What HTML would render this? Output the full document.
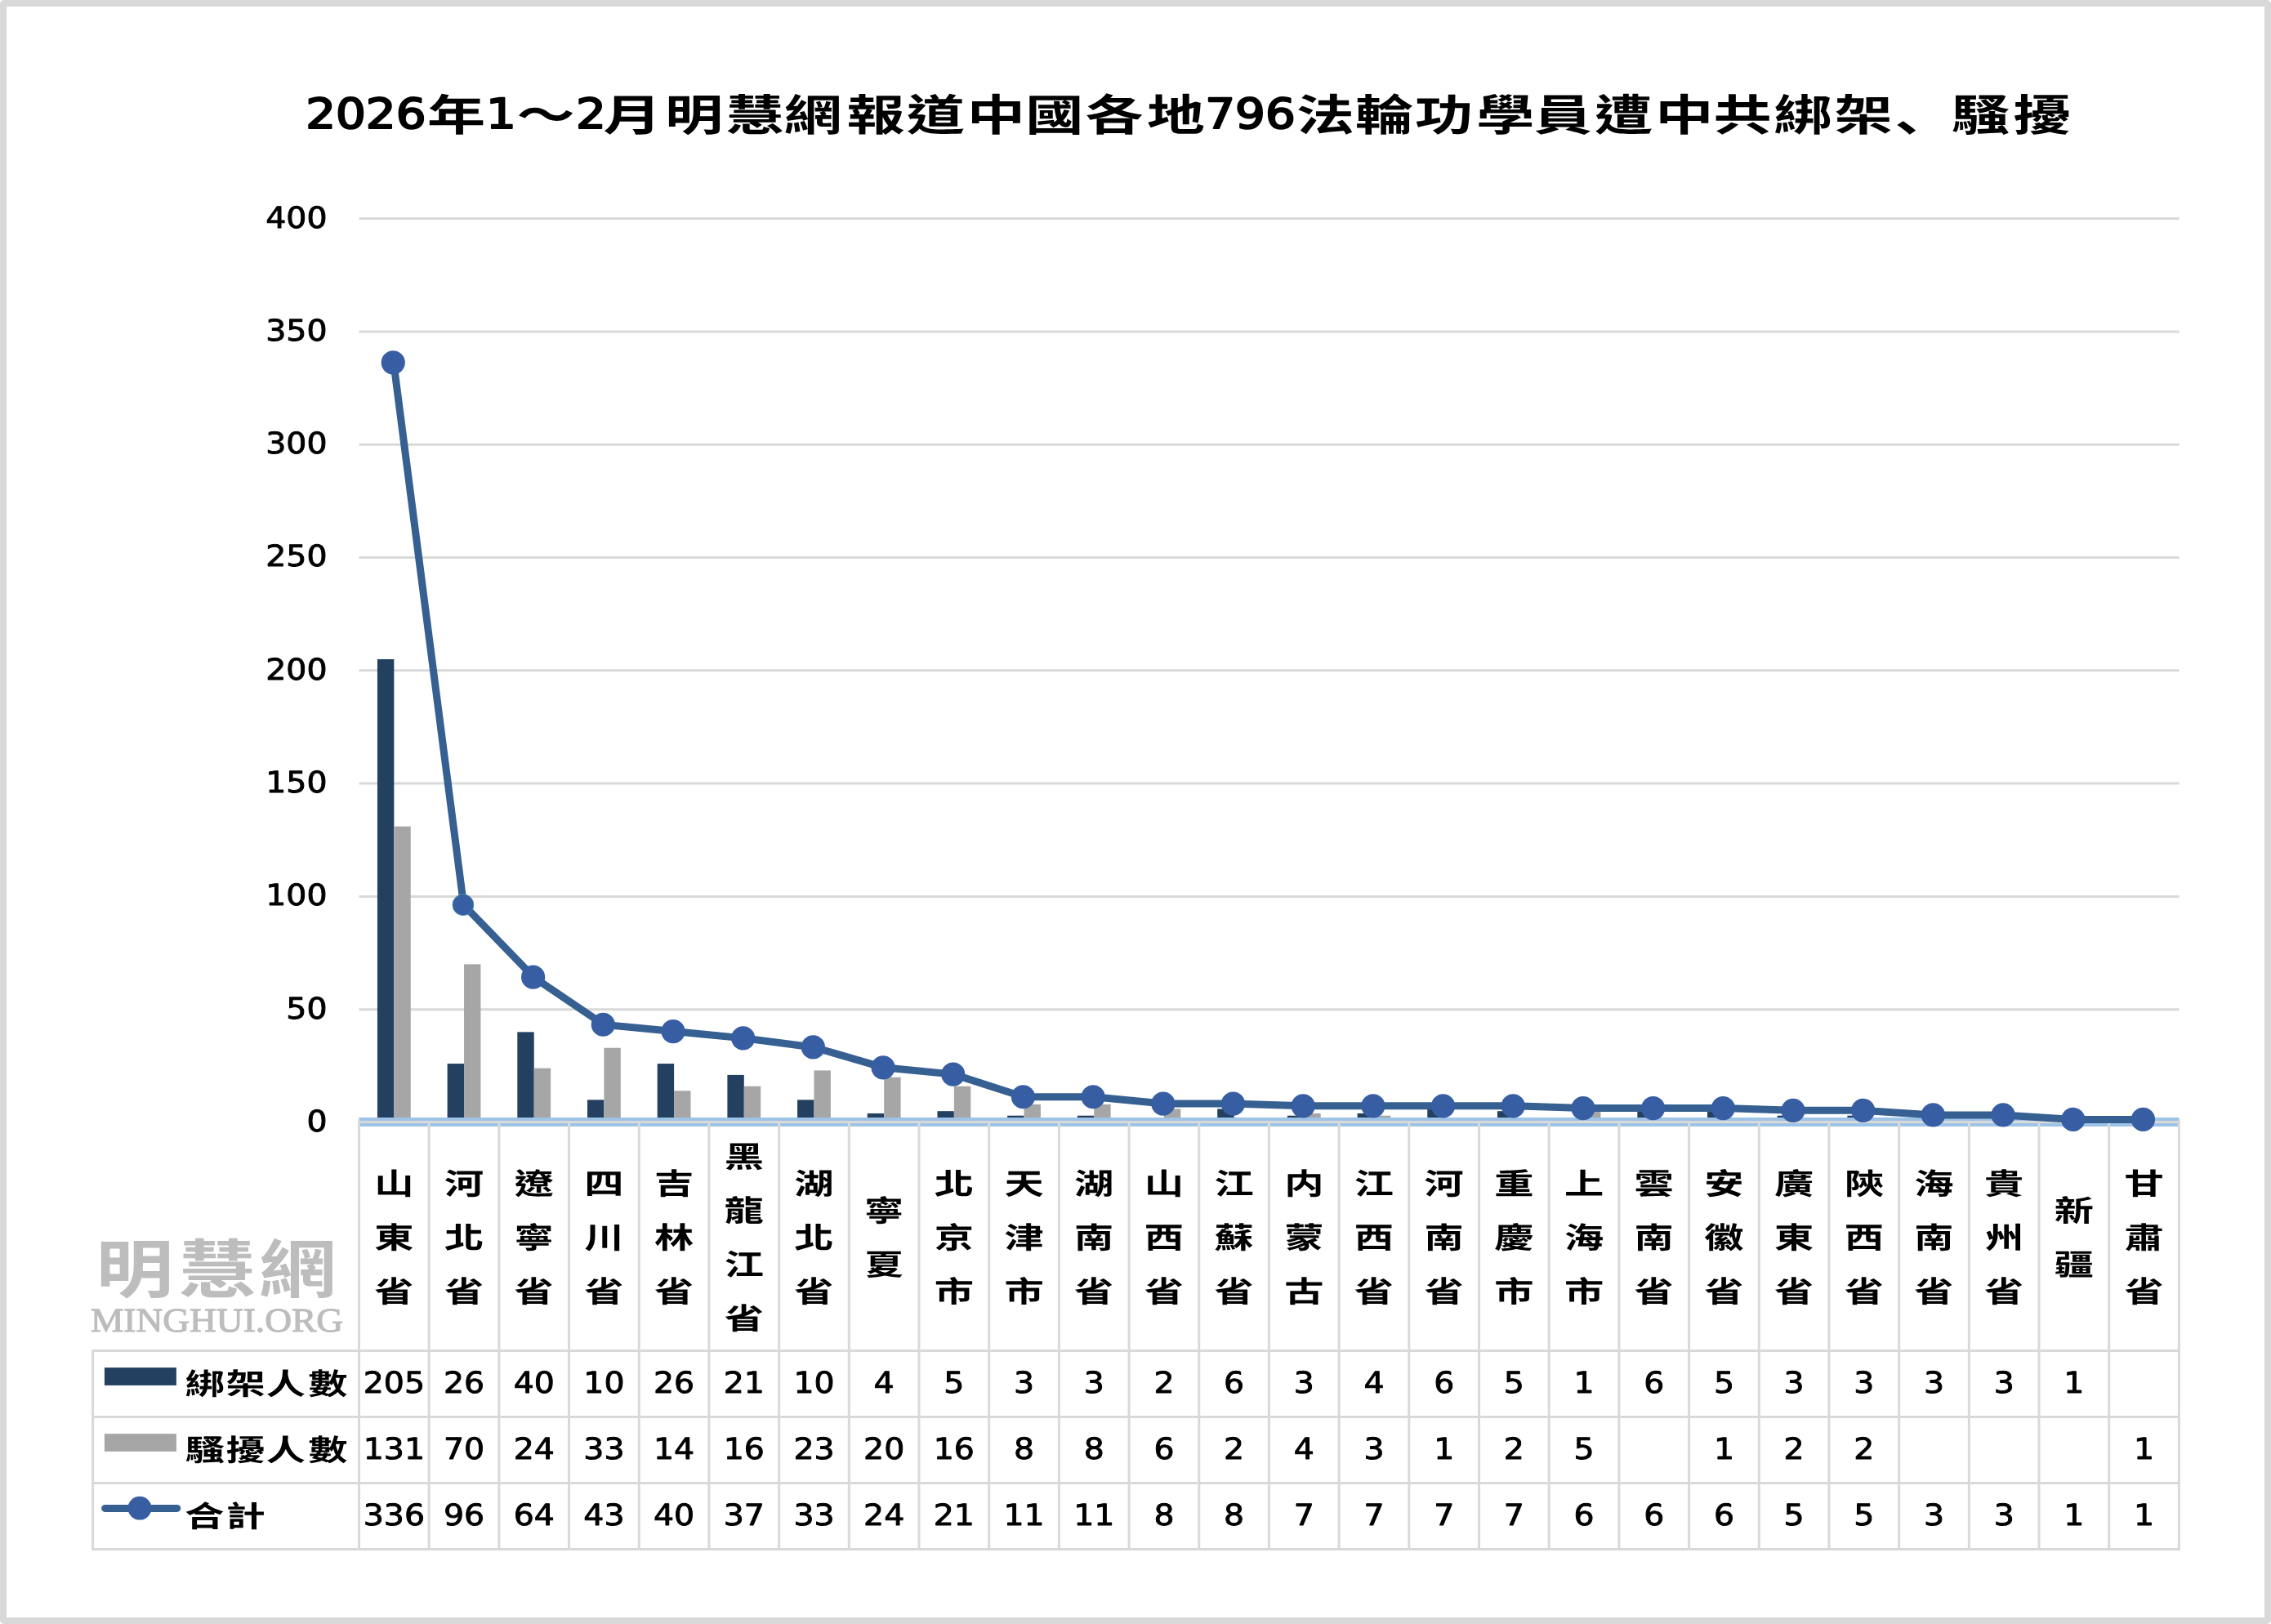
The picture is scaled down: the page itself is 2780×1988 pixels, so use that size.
<!DOCTYPE html>
<html lang="zh-Hant"><head><meta charset="utf-8"><title>2026年1～2月明慧網報道中國各地796法輪功學員遭中共綁架、騷擾</title>
<style>html,body{margin:0;padding:0;background:#fff}body{width:2780px;height:1988px;overflow:hidden}svg{display:block;will-change:transform}text{text-rendering:geometricPrecision}
.cj{font-family:"Liberation Sans","Noto Sans CJK TC","Noto Sans CJK SC","WenQuanYi Zen Hei",sans-serif;font-weight:bold;text-anchor:middle;fill:#000}
.nm{font-family:"DejaVu Sans","Liberation Sans",sans-serif;fill:#000;stroke:#000;stroke-width:0.9;stroke-linejoin:round}
.tn{font-family:"DejaVu Sans","Liberation Sans",sans-serif;fill:#000;stroke:#000;stroke-width:2.2;stroke-linejoin:round;text-anchor:middle}
.wm{fill:#bdbdbd}
</style></head><body>
<svg width="2780" height="1988" viewBox="0 0 2780 1988">
<rect x="0" y="0" width="2780" height="1988" fill="#fff"/>
<g id="chart" >
<rect x="4" y="4" width="2772" height="1980" rx="1" ry="1" fill="#fff" stroke="#d9d9d9" stroke-width="8"/>
<g stroke="#d9d9d9" stroke-width="3">
<line x1="439.5" y1="1235.7" x2="2667.6" y2="1235.7"/>
<line x1="439.5" y1="1097.4" x2="2667.6" y2="1097.4"/>
<line x1="439.5" y1="959.1" x2="2667.6" y2="959.1"/>
<line x1="439.5" y1="820.8" x2="2667.6" y2="820.8"/>
<line x1="439.5" y1="682.5" x2="2667.6" y2="682.5"/>
<line x1="439.5" y1="544.2" x2="2667.6" y2="544.2"/>
<line x1="439.5" y1="405.9" x2="2667.6" y2="405.9"/>
<line x1="439.5" y1="267.6" x2="2667.6" y2="267.6"/>
</g>
<g fill="#244061">
<rect x="461.94" y="806.97" width="20.4" height="563.03"/>
<rect x="547.63" y="1302.08" width="20.4" height="67.92"/>
<rect x="633.32" y="1263.36" width="20.4" height="106.64"/>
<rect x="719.01" y="1346.34" width="20.4" height="23.66"/>
<rect x="804.7" y="1302.08" width="20.4" height="67.92"/>
<rect x="890.39" y="1315.91" width="20.4" height="54.09"/>
<rect x="976.08" y="1346.34" width="20.4" height="23.66"/>
<rect x="1061.76" y="1362.94" width="20.4" height="7.06"/>
<rect x="1147.45" y="1360.17" width="20.4" height="9.83"/>
<rect x="1233.14" y="1365.7" width="20.4" height="4.3"/>
<rect x="1318.83" y="1365.7" width="20.4" height="4.3"/>
<rect x="1404.52" y="1368.47" width="20.4" height="1.53"/>
<rect x="1490.21" y="1357.4" width="20.4" height="12.6"/>
<rect x="1575.89" y="1365.7" width="20.4" height="4.3"/>
<rect x="1661.58" y="1362.94" width="20.4" height="7.06"/>
<rect x="1747.27" y="1357.4" width="20.4" height="12.6"/>
<rect x="1832.96" y="1360.17" width="20.4" height="9.83"/>
<rect x="1918.65" y="1371.23" width="20.4" height="-1.23"/>
<rect x="2004.34" y="1357.4" width="20.4" height="12.6"/>
<rect x="2090.03" y="1360.17" width="20.4" height="9.83"/>
<rect x="2175.71" y="1365.7" width="20.4" height="4.3"/>
<rect x="2261.4" y="1365.7" width="20.4" height="4.3"/>
<rect x="2347.09" y="1365.7" width="20.4" height="4.3"/>
<rect x="2432.78" y="1365.7" width="20.4" height="4.3"/>
<rect x="2518.47" y="1371.23" width="20.4" height="-1.23"/>
</g><g fill="#a6a6a6">
<rect x="482.34" y="1011.65" width="20.4" height="358.35"/>
<rect x="568.03" y="1180.38" width="20.4" height="189.62"/>
<rect x="653.72" y="1307.62" width="20.4" height="62.38"/>
<rect x="739.41" y="1282.72" width="20.4" height="87.28"/>
<rect x="825.1" y="1335.28" width="20.4" height="34.72"/>
<rect x="910.79" y="1329.74" width="20.4" height="40.26"/>
<rect x="996.48" y="1310.38" width="20.4" height="59.62"/>
<rect x="1082.16" y="1318.68" width="20.4" height="51.32"/>
<rect x="1167.85" y="1329.74" width="20.4" height="40.26"/>
<rect x="1253.54" y="1351.87" width="20.4" height="18.13"/>
<rect x="1339.23" y="1351.87" width="20.4" height="18.13"/>
<rect x="1424.92" y="1357.4" width="20.4" height="12.6"/>
<rect x="1510.61" y="1368.47" width="20.4" height="1.53"/>
<rect x="1596.29" y="1362.94" width="20.4" height="7.06"/>
<rect x="1681.98" y="1365.7" width="20.4" height="4.3"/>
<rect x="1767.67" y="1371.23" width="20.4" height="-1.23"/>
<rect x="1853.36" y="1368.47" width="20.4" height="1.53"/>
<rect x="1939.05" y="1360.17" width="20.4" height="9.83"/>
<rect x="2110.43" y="1371.23" width="20.4" height="-1.23"/>
<rect x="2196.11" y="1368.47" width="20.4" height="1.53"/>
<rect x="2281.8" y="1368.47" width="20.4" height="1.53"/>
<rect x="2624.56" y="1371.23" width="20.4" height="-1.23"/>
</g>
<rect x="439.3" y="1368" width="2228.3" height="11" fill="#9dc3e6"/>
<g stroke="#d9d9d9" stroke-width="3" fill="none">
<line x1="438" y1="1373.6" x2="2668.9" y2="1373.6"/>
<line x1="439.5" y1="1372.1" x2="439.5" y2="1898"/>
<line x1="525.19" y1="1372.1" x2="525.19" y2="1898"/>
<line x1="610.88" y1="1372.1" x2="610.88" y2="1898"/>
<line x1="696.57" y1="1372.1" x2="696.57" y2="1898"/>
<line x1="782.25" y1="1372.1" x2="782.25" y2="1898"/>
<line x1="867.94" y1="1372.1" x2="867.94" y2="1898"/>
<line x1="953.63" y1="1372.1" x2="953.63" y2="1898"/>
<line x1="1039.32" y1="1372.1" x2="1039.32" y2="1898"/>
<line x1="1125.01" y1="1372.1" x2="1125.01" y2="1898"/>
<line x1="1210.7" y1="1372.1" x2="1210.7" y2="1898"/>
<line x1="1296.38" y1="1372.1" x2="1296.38" y2="1898"/>
<line x1="1382.07" y1="1372.1" x2="1382.07" y2="1898"/>
<line x1="1467.76" y1="1372.1" x2="1467.76" y2="1898"/>
<line x1="1553.45" y1="1372.1" x2="1553.45" y2="1898"/>
<line x1="1639.14" y1="1372.1" x2="1639.14" y2="1898"/>
<line x1="1724.83" y1="1372.1" x2="1724.83" y2="1898"/>
<line x1="1810.52" y1="1372.1" x2="1810.52" y2="1898"/>
<line x1="1896.2" y1="1372.1" x2="1896.2" y2="1898"/>
<line x1="1981.89" y1="1372.1" x2="1981.89" y2="1898"/>
<line x1="2067.58" y1="1372.1" x2="2067.58" y2="1898"/>
<line x1="2153.27" y1="1372.1" x2="2153.27" y2="1898"/>
<line x1="2238.96" y1="1372.1" x2="2238.96" y2="1898"/>
<line x1="2324.65" y1="1372.1" x2="2324.65" y2="1898"/>
<line x1="2410.33" y1="1372.1" x2="2410.33" y2="1898"/>
<line x1="2496.02" y1="1372.1" x2="2496.02" y2="1898"/>
<line x1="2581.71" y1="1372.1" x2="2581.71" y2="1898"/>
<line x1="2667.4" y1="1372.1" x2="2667.4" y2="1898"/>
<line x1="112.1" y1="1653.4" x2="2668.9" y2="1653.4"/>
<line x1="112.1" y1="1734.6" x2="2668.9" y2="1734.6"/>
<line x1="112.1" y1="1815.6" x2="2668.9" y2="1815.6"/>
<line x1="112.1" y1="1896.5" x2="2668.9" y2="1896.5"/>
<line x1="113.6" y1="1653.4" x2="113.6" y2="1896.5"/>
</g>
<polyline points="481.84,443.82 567.53,1107.66 653.22,1196.18 738.91,1254.26 824.6,1262.56 910.29,1270.86 995.98,1281.92 1081.66,1306.82 1167.35,1315.11 1253.04,1342.77 1338.73,1342.77 1424.42,1351.07 1510.11,1351.07 1595.79,1353.84 1681.48,1353.84 1767.17,1353.84 1852.86,1353.84 1938.55,1356.6 2024.24,1356.6 2109.93,1356.6 2195.61,1359.37 2281.3,1359.37 2366.99,1364.9 2452.68,1364.9 2538.37,1370.43 2624.06,1370.43" fill="none" stroke="#366092" stroke-width="9.0" stroke-linejoin="round" stroke-linecap="round"/>
<g fill="#375da3">
<circle cx="481.24" cy="443.82" r="14.6"/>
<circle cx="566.93" cy="1107.66" r="12.9" stroke="#3d8fa6" stroke-width="0.9"/>
<circle cx="652.62" cy="1196.18" r="14.6"/>
<circle cx="738.31" cy="1254.26" r="14.6"/>
<circle cx="824" cy="1262.56" r="14.6"/>
<circle cx="909.69" cy="1270.86" r="14.6"/>
<circle cx="995.38" cy="1281.92" r="14.6"/>
<circle cx="1081.06" cy="1306.82" r="14.6"/>
<circle cx="1166.75" cy="1315.11" r="14.6"/>
<circle cx="1252.44" cy="1342.77" r="14.6"/>
<circle cx="1338.13" cy="1342.77" r="14.6"/>
<circle cx="1423.82" cy="1351.07" r="14.6"/>
<circle cx="1509.51" cy="1351.07" r="14.6"/>
<circle cx="1595.19" cy="1353.84" r="14.6"/>
<circle cx="1680.88" cy="1353.84" r="14.6"/>
<circle cx="1766.57" cy="1353.84" r="14.6"/>
<circle cx="1852.26" cy="1353.84" r="14.6"/>
<circle cx="1937.95" cy="1356.6" r="14.6"/>
<circle cx="2023.64" cy="1356.6" r="14.6"/>
<circle cx="2109.33" cy="1356.6" r="14.6"/>
<circle cx="2195.01" cy="1359.37" r="14.6"/>
<circle cx="2280.7" cy="1359.37" r="14.6"/>
<circle cx="2366.39" cy="1364.9" r="14.6"/>
<circle cx="2452.08" cy="1364.9" r="14.6"/>
<circle cx="2537.77" cy="1370.43" r="14.6"/>
<circle cx="2623.46" cy="1370.43" r="14.6"/>
</g>
<g class="nm" font-size="36" text-anchor="end">
<text transform="translate(400.5,1384.9) scale(1.095,1)">0</text>
<text transform="translate(400.5,1246.6) scale(1.095,1)">50</text>
<text transform="translate(400.5,1108.3) scale(1.095,1)">100</text>
<text transform="translate(400.5,970) scale(1.095,1)">150</text>
<text transform="translate(400.5,831.7) scale(1.095,1)">200</text>
<text transform="translate(400.5,693.4) scale(1.095,1)">250</text>
<text transform="translate(400.5,555.1) scale(1.095,1)">300</text>
<text transform="translate(400.5,416.8) scale(1.095,1)">350</text>
<text transform="translate(400.5,278.5) scale(1.095,1)">400</text>
</g>
<g id="chart-title"><text class="tn" font-size="51" transform="translate(447.8,156.6) scale(1.135,1)">2026</text><text class="cj" font-size="56.5" transform="scale(1.26,0.94)" x="443.25" y="170.67">年</text><text class="tn" font-size="51" transform="translate(613.5,156.6) scale(1.135,1)">1</text><text class="cj" font-size="56.5" transform="scale(1.26,0.94)" x="530.16" y="170.67">～</text><text class="tn" font-size="51" transform="translate(723.5,156.6) scale(1.135,1)">2</text><text class="cj" font-size="56.5" transform="scale(1.26,0.94)" x="614.29 674.21 733.33 789.68 850.79 909.05 967.78 1024.44 1082.54 1142.3" y="170.67 170.67 170.67 170.67 170.67 170.67 170.67 170.67 170.67 170.67">月明慧網報道中國各地</text><text class="tn" font-size="51" transform="translate(1530.5,156.6) scale(1.135,1)">796</text><text class="cj" font-size="56.5" transform="scale(1.26,0.94)" x="1287.54 1344.68 1402.78 1462.54 1518.25 1577.38 1636.43 1693.02 1751.75 1810.48 1851.98 1924.21 1983.97" y="170.67 170.67 170.67 170.67 170.67 170.67 170.67 170.67 170.67 170.67 187.16 170.67 170.67">法輪功學員遭中共綁架、騷擾</text></g>
<g class="cj" font-size="38">
<text transform="scale(1.27,0.95)" x="379.8 379.8 379.8" y="1539.14 1608.4 1677.67">山東省</text>
<text transform="scale(1.27,0.95)" x="447.27 447.27 447.27" y="1539.14 1608.4 1677.67">河北省</text>
<text transform="scale(1.27,0.95)" x="514.74 514.74 514.74" y="1539.14 1608.4 1677.67">遼寧省</text>
<text transform="scale(1.27,0.95)" x="582.21 582.21 582.21" y="1539.14 1608.4 1677.67">四川省</text>
<text transform="scale(1.27,0.95)" x="649.68 649.68 649.68" y="1539.14 1608.4 1677.67">吉林省</text>
<text transform="scale(1.27,0.95)" x="717.15 717.15 717.15 717.15" y="1504.51 1573.77 1643.03 1712.3">黑龍江省</text>
<text transform="scale(1.27,0.95)" x="784.63 784.63 784.63" y="1539.14 1608.4 1677.67">湖北省</text>
<text transform="scale(1.27,0.95)" x="852.1 852.1" y="1573.77 1643.03">寧夏</text>
<text transform="scale(1.27,0.95)" x="919.57 919.57 919.57" y="1539.14 1608.4 1677.67">北京市</text>
<text transform="scale(1.27,0.95)" x="987.04 987.04 987.04" y="1539.14 1608.4 1677.67">天津市</text>
<text transform="scale(1.27,0.95)" x="1054.51 1054.51 1054.51" y="1539.14 1608.4 1677.67">湖南省</text>
<text transform="scale(1.27,0.95)" x="1121.98 1121.98 1121.98" y="1539.14 1608.4 1677.67">山西省</text>
<text transform="scale(1.27,0.95)" x="1189.45 1189.45 1189.45" y="1539.14 1608.4 1677.67">江蘇省</text>
<text transform="scale(1.27,0.95)" x="1256.92 1256.92 1256.92" y="1539.14 1608.4 1677.67">内蒙古</text>
<text transform="scale(1.27,0.95)" x="1324.4 1324.4 1324.4" y="1539.14 1608.4 1677.67">江西省</text>
<text transform="scale(1.27,0.95)" x="1391.87 1391.87 1391.87" y="1539.14 1608.4 1677.67">河南省</text>
<text transform="scale(1.27,0.95)" x="1459.34 1459.34 1459.34" y="1539.14 1608.4 1677.67">重慶市</text>
<text transform="scale(1.27,0.95)" x="1526.81 1526.81 1526.81" y="1539.14 1608.4 1677.67">上海市</text>
<text transform="scale(1.27,0.95)" x="1594.28 1594.28 1594.28" y="1539.14 1608.4 1677.67">雲南省</text>
<text transform="scale(1.27,0.95)" x="1661.75 1661.75 1661.75" y="1539.14 1608.4 1677.67">安徽省</text>
<text transform="scale(1.27,0.95)" x="1729.22 1729.22 1729.22" y="1539.14 1608.4 1677.67">廣東省</text>
<text transform="scale(1.27,0.95)" x="1796.69 1796.69 1796.69" y="1539.14 1608.4 1677.67">陝西省</text>
<text transform="scale(1.27,0.95)" x="1864.17 1864.17 1864.17" y="1539.14 1608.4 1677.67">海南省</text>
<text transform="scale(1.27,0.95)" x="1931.64 1931.64 1931.64" y="1539.14 1608.4 1677.67">貴州省</text>
<text transform="scale(1.27,0.95)" x="1999.11 1999.11" y="1573.77 1643.03">新疆</text>
<text transform="scale(1.27,0.95)" x="2066.58 2066.58 2066.58" y="1539.14 1608.4 1677.67">甘肅省</text>
</g>
<rect x="127.9" y="1674.1" width="88" height="21.8" fill="#244061"/>
<rect x="127.9" y="1755.1" width="88" height="21.7" fill="#a6a6a6"/>
<line x1="128.6" y1="1846.4" x2="216.7" y2="1846.4" stroke="#366092" stroke-width="9.0" stroke-linecap="round"/>
<circle cx="171" cy="1846.2" r="14.4" fill="#375da3"/>
<g class="cj" font-size="38">
<text transform="scale(1.27,0.95)" x="197.64 236.77 275.51 316.14" y="1796.51 1796.51 1796.51 1796.51">綁架人數</text>
<text transform="scale(1.27,0.95)" x="197.64 236.77 275.51 316.14" y="1882.09 1882.09 1882.09 1882.09">騷擾人數</text>
<text transform="scale(1.27,0.95)" x="197.09 236.77" y="1967.56 1967.56">合計</text>
</g>
<g class="nm" font-size="36" text-anchor="middle">
<text transform="translate(482.34,1704.6) scale(1.095,1)">205</text>
<text transform="translate(568.03,1704.6) scale(1.095,1)">26</text>
<text transform="translate(653.72,1704.6) scale(1.095,1)">40</text>
<text transform="translate(739.41,1704.6) scale(1.095,1)">10</text>
<text transform="translate(825.1,1704.6) scale(1.095,1)">26</text>
<text transform="translate(910.79,1704.6) scale(1.095,1)">21</text>
<text transform="translate(996.48,1704.6) scale(1.095,1)">10</text>
<text transform="translate(1082.16,1704.6) scale(1.095,1)">4</text>
<text transform="translate(1167.85,1704.6) scale(1.095,1)">5</text>
<text transform="translate(1253.54,1704.6) scale(1.095,1)">3</text>
<text transform="translate(1339.23,1704.6) scale(1.095,1)">3</text>
<text transform="translate(1424.92,1704.6) scale(1.095,1)">2</text>
<text transform="translate(1510.61,1704.6) scale(1.095,1)">6</text>
<text transform="translate(1596.29,1704.6) scale(1.095,1)">3</text>
<text transform="translate(1681.98,1704.6) scale(1.095,1)">4</text>
<text transform="translate(1767.67,1704.6) scale(1.095,1)">6</text>
<text transform="translate(1853.36,1704.6) scale(1.095,1)">5</text>
<text transform="translate(1939.05,1704.6) scale(1.095,1)">1</text>
<text transform="translate(2024.74,1704.6) scale(1.095,1)">6</text>
<text transform="translate(2110.43,1704.6) scale(1.095,1)">5</text>
<text transform="translate(2196.11,1704.6) scale(1.095,1)">3</text>
<text transform="translate(2281.8,1704.6) scale(1.095,1)">3</text>
<text transform="translate(2367.49,1704.6) scale(1.095,1)">3</text>
<text transform="translate(2453.18,1704.6) scale(1.095,1)">3</text>
<text transform="translate(2538.87,1704.6) scale(1.095,1)">1</text>
<text transform="translate(482.34,1785.8) scale(1.095,1)">131</text>
<text transform="translate(568.03,1785.8) scale(1.095,1)">70</text>
<text transform="translate(653.72,1785.8) scale(1.095,1)">24</text>
<text transform="translate(739.41,1785.8) scale(1.095,1)">33</text>
<text transform="translate(825.1,1785.8) scale(1.095,1)">14</text>
<text transform="translate(910.79,1785.8) scale(1.095,1)">16</text>
<text transform="translate(996.48,1785.8) scale(1.095,1)">23</text>
<text transform="translate(1082.16,1785.8) scale(1.095,1)">20</text>
<text transform="translate(1167.85,1785.8) scale(1.095,1)">16</text>
<text transform="translate(1253.54,1785.8) scale(1.095,1)">8</text>
<text transform="translate(1339.23,1785.8) scale(1.095,1)">8</text>
<text transform="translate(1424.92,1785.8) scale(1.095,1)">6</text>
<text transform="translate(1510.61,1785.8) scale(1.095,1)">2</text>
<text transform="translate(1596.29,1785.8) scale(1.095,1)">4</text>
<text transform="translate(1681.98,1785.8) scale(1.095,1)">3</text>
<text transform="translate(1767.67,1785.8) scale(1.095,1)">1</text>
<text transform="translate(1853.36,1785.8) scale(1.095,1)">2</text>
<text transform="translate(1939.05,1785.8) scale(1.095,1)">5</text>
<text transform="translate(2110.43,1785.8) scale(1.095,1)">1</text>
<text transform="translate(2196.11,1785.8) scale(1.095,1)">2</text>
<text transform="translate(2281.8,1785.8) scale(1.095,1)">2</text>
<text transform="translate(2624.56,1785.8) scale(1.095,1)">1</text>
<text transform="translate(482.34,1866.7) scale(1.095,1)">336</text>
<text transform="translate(568.03,1866.7) scale(1.095,1)">96</text>
<text transform="translate(653.72,1866.7) scale(1.095,1)">64</text>
<text transform="translate(739.41,1866.7) scale(1.095,1)">43</text>
<text transform="translate(825.1,1866.7) scale(1.095,1)">40</text>
<text transform="translate(910.79,1866.7) scale(1.095,1)">37</text>
<text transform="translate(996.48,1866.7) scale(1.095,1)">33</text>
<text transform="translate(1082.16,1866.7) scale(1.095,1)">24</text>
<text transform="translate(1167.85,1866.7) scale(1.095,1)">21</text>
<text transform="translate(1253.54,1866.7) scale(1.095,1)">11</text>
<text transform="translate(1339.23,1866.7) scale(1.095,1)">11</text>
<text transform="translate(1424.92,1866.7) scale(1.095,1)">8</text>
<text transform="translate(1510.61,1866.7) scale(1.095,1)">8</text>
<text transform="translate(1596.29,1866.7) scale(1.095,1)">7</text>
<text transform="translate(1681.98,1866.7) scale(1.095,1)">7</text>
<text transform="translate(1767.67,1866.7) scale(1.095,1)">7</text>
<text transform="translate(1853.36,1866.7) scale(1.095,1)">7</text>
<text transform="translate(1939.05,1866.7) scale(1.095,1)">6</text>
<text transform="translate(2024.74,1866.7) scale(1.095,1)">6</text>
<text transform="translate(2110.43,1866.7) scale(1.095,1)">6</text>
<text transform="translate(2196.11,1866.7) scale(1.095,1)">5</text>
<text transform="translate(2281.8,1866.7) scale(1.095,1)">5</text>
<text transform="translate(2367.49,1866.7) scale(1.095,1)">3</text>
<text transform="translate(2453.18,1866.7) scale(1.095,1)">3</text>
<text transform="translate(2538.87,1866.7) scale(1.095,1)">1</text>
<text transform="translate(2624.56,1866.7) scale(1.095,1)">1</text>
</g>
<g class="cj wm" font-size="78" style="font-weight:bold">
<text class="wm" transform="scale(1.22,1)" x="135.08 217.87 298.61" y="1582 1582 1582">明慧網</text>
</g>
<text class="wm" transform="translate(265.5,1630) scale(1.095,1)" font-family="&quot;Liberation Serif&quot;,serif" font-size="41.5" text-anchor="middle" stroke="#bdbdbd" stroke-width="1.1">MINGHUI.ORG</text>
</g></svg></body></html>
